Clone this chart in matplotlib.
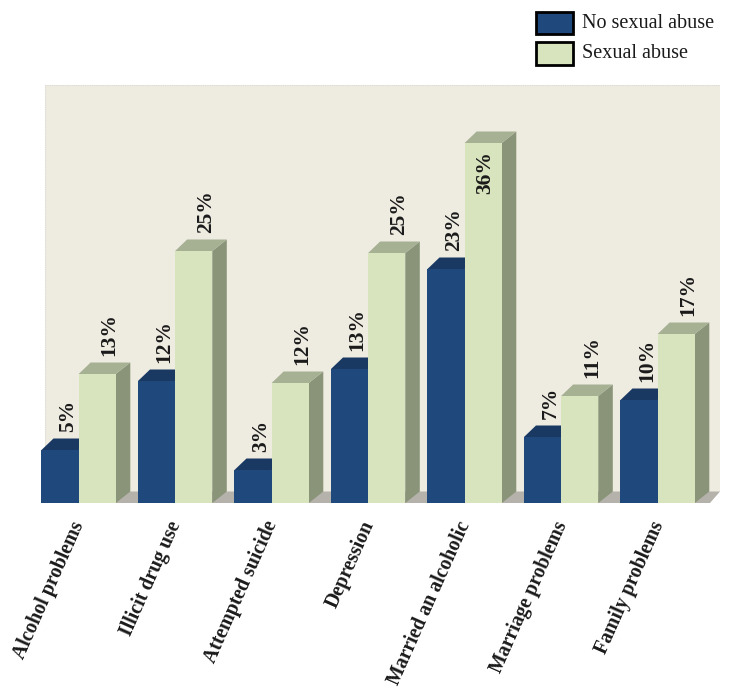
import matplotlib
matplotlib.use("Agg")
import matplotlib.pyplot as plt
from matplotlib.patches import Polygon, Rectangle

categories = ["Alcohol problems", "Illicit drug use", "Attempted suicide", "Depression",
              "Married an alcoholic", "Marriage problems", "Family problems"]
no_abuse = [5.3, 12.2, 3.3, 13.4, 23.4, 6.6, 10.3]
abuse = [12.9, 25.2, 12.0, 25.0, 36.0, 10.7, 16.9]
series_names = ["No sexual abuse", "Sexual abuse"]

W, H = 734, 696
FONT = "Liberation Serif"
BLUE, BLUE_TOP, BLUE_SIDE = "#1F497D", "#193862", "#15304f"
GREEN, GREEN_TOP, GREEN_SIDE = "#D8E4BD", "#A6B093", "#8A9479"
WALL, FLOOR = "#EEEBE1", "#B4B2AA"

fig = plt.figure(figsize=(W / 100, H / 100), dpi=100)
fig.patch.set_facecolor("white")

# axes region in pixels
L, R, T, B = 41, 720, 85, 503
ax = fig.add_axes([L / W, 1 - B / H, (R - L) / W, (B - T) / H])
pitch = 96.5            # px per group
ppu = 10.0              # px per percent
w = 0.385               # bar width (group units)
x0 = -0.39
ax.set_xlim(x0, x0 + (R - L) / pitch)
ax.set_ylim(0, (B - T) / ppu)
ax.axis("off")
xmin, xmax = ax.get_xlim()
ymin, ymax = ax.get_ylim()

dxl = 12 / pitch
dxr = 14.5 / pitch
dy = 11.5 / ppu

# back wall & floor
wl = xmin + 4 / pitch
ax.add_patch(Rectangle((wl, dy), xmax - wl, ymax - dy,
                       facecolor=WALL, edgecolor="none", zorder=0, clip_on=False))
ax.plot([wl, wl, xmax], [dy, ymax, ymax], color="#dcdcd4", lw=0.8, ls=(0, (1, 1)),
        zorder=0.2, clip_on=False)
floor_front_right = xmax - 10 / pitch
ax.add_patch(Polygon([(xmin, 0), (floor_front_right, 0), (xmax, dy), (wl, dy)],
                     closed=True, facecolor=FLOOR, edgecolor="none", zorder=0.5, clip_on=False))

xs = list(range(len(categories)))

def draw_box(xl, v, top, side, z):
    xr = xl + w
    ax.add_patch(Polygon([(xr, 0), (xr, v), (xr + dxr, v + dy), (xr + dxr, dy)],
                         closed=True, facecolor=side, edgecolor="none", zorder=z, clip_on=False))
    ax.add_patch(Polygon([(xl, v), (xr, v), (xr + dxr, v + dy), (xl + dxl, v + dy)],
                         closed=True, facecolor=top, edgecolor="none", zorder=z, clip_on=False))

for i, x in enumerate(xs):
    draw_box(x - w, no_abuse[i], BLUE_TOP, BLUE_SIDE, 1)
ax.bar([x - w for x in xs], no_abuse, width=w, align="edge", color=BLUE, zorder=1.5,
       clip_on=False, linewidth=0)
for i, x in enumerate(xs):
    draw_box(x, abuse[i], GREEN_TOP, GREEN_SIDE, 2)
ax.bar(xs, abuse, width=w, align="edge", color=GREEN, zorder=2.5, clip_on=False, linewidth=0)

# value labels
lab_kw = dict(rotation=90, ha="center", fontsize=15.5, fontweight="bold", family=FONT,
              color="#1a1a1a", zorder=5, clip_on=False)
text_len = 4.3
for i, x in enumerate(xs):
    v = no_abuse[i]
    ax.text(x - w / 2 + 8 / pitch, v + dy + 0.7, f"{v:.0f}%", va="bottom", **lab_kw)
    v = abuse[i]
    yl = v + dy + 0.7
    if yl + text_len > ymax:
        ax.text(x + w / 2 + 2 / pitch, v - 0.8, f"{v:.0f}%", va="top", **lab_kw)
    else:
        ax.text(x + w / 2 + 12.5 / pitch, yl, f"{v:.0f}%", va="bottom", **lab_kw)

# category labels
for i, x in enumerate(xs):
    ax.text(x + 1 / pitch, -1.9, categories[i], rotation=66, ha="right", va="center",
            rotation_mode="anchor", fontsize=14.2, fontweight="bold", family=FONT,
            color="#1a1a1a", clip_on=False)

# legend
def fx(px): return px / W
def fy(py): return 1 - py / H
for (top, bot), color, name in zip([(12, 34), (42, 65)], [BLUE, GREEN], series_names):
    fig.patches.append(Rectangle((fx(536), fy(bot)), 37 / W, (bot - top) / H,
                                 transform=fig.transFigure, facecolor=color,
                                 edgecolor="black", linewidth=2))
    fig.text(fx(582), fy((top + bot) / 2), name, va="center", ha="left",
             fontsize=14.5, family=FONT, color="#1a1a1a")

fig.savefig("out.png", dpi=100)
